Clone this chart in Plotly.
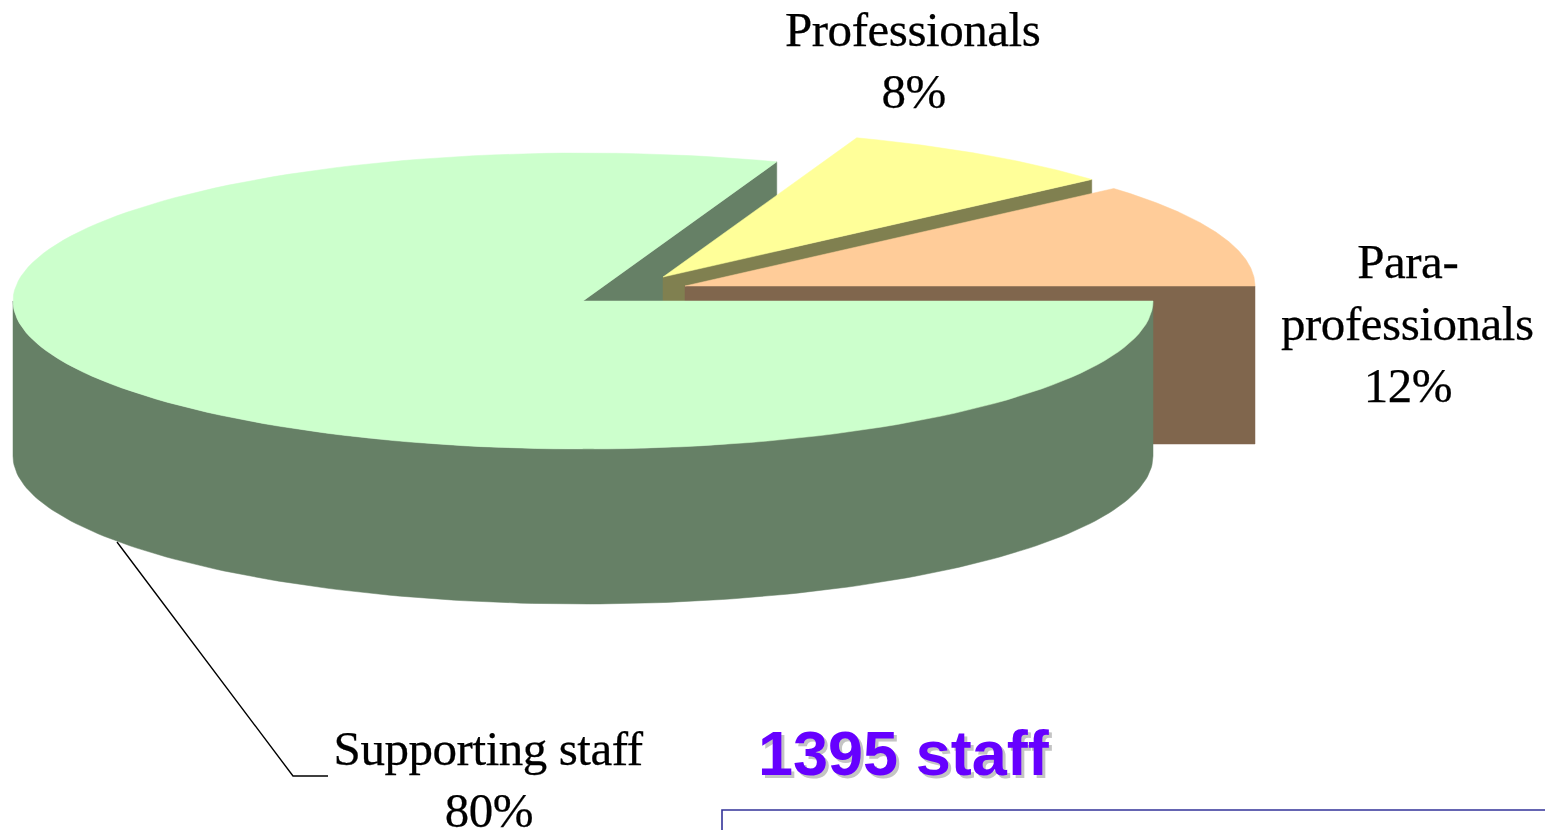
import numpy as np
import plotly.graph_objects as go

# --- data ---
categories = ["Supporting staff", "Professionals", "Para-professionals"]
shares = [80.52, 8.03, 11.45]
label_percent = ["80%", "8%", "12%"]
headline = "1395 staff"

# --- style / geometry ---
W, H = 1545, 830
RX, RY = 570, 148
depth = {"Supporting staff": 155, "Professionals": 156, "Para-professionals": 158}
top_colors = {"Supporting staff": "#CCFFCC", "Professionals": "#FFFF99", "Para-professionals": "#FFCC99"}
wall_colors = {"Supporting staff": "#668066", "Professionals": "#808050", "Para-professionals": "#80664D"}
apex = {"Supporting staff": (583, 301), "Professionals": (663, 277), "Para-professionals": (685, 286)}

# Slices run counter-clockwise from angle 0 in the order: para, prof, support
order = ["Para-professionals", "Professionals", "Supporting staff"]
share_of = dict(zip(categories, shares))
spans, start = {}, 0.0
for name in order:
    sweep = share_of[name] / sum(shares) * 2 * np.pi
    spans[name] = (start, start + sweep)
    start += sweep


def arc(name, a, b, n=160):
    cx, cy = apex[name]
    t = np.linspace(a, b, n)
    return cx + RX * np.cos(t), cy - RY * np.sin(t)


fig = go.Figure()


def poly(x, y, color, name):
    fig.add_trace(go.Scatter(x=list(x), y=list(y), mode="lines", fill="toself", fillcolor=color,
                             line=dict(color=color, width=0.5), hoverinfo="skip", name=name))


def cut_face(name, angle, color):
    cx, cy = apex[name]
    ex, ey = arc(name, angle, angle, 1)
    ex, ey = ex[0], ey[0]
    d = depth[name]
    poly([cx, ex, ex, cx, cx], [cy, ey, ey + d, cy + d, cy], color, name)


def top(name):
    a, b = spans[name]
    cx, cy = apex[name]
    x, y = arc(name, a, b)
    poly(np.r_[cx, x, cx], np.r_[cy, y, cy], top_colors[name], name)


# back cut face of the big slice, behind everything else
sup = "Supporting staff"
cut_face(sup, spans[sup][0], wall_colors[sup])

# professionals slice
pro = "Professionals"
cut_face(pro, spans[pro][0], wall_colors[pro])
top(pro)

# para-professionals slice
par = "Para-professionals"
cut_face(par, spans[par][0], wall_colors[par])
top(par)

# big slice: front wall (angles pi .. 2*pi) then the top
x, y = arc(sup, np.pi, 2 * np.pi)
poly(np.r_[x, x[::-1], x[0]], np.r_[y, y[::-1] + depth[sup], y[0]], wall_colors[sup], sup)
top(sup)

# --- labels ---
serif = dict(family="Liberation Serif", size=49, color="#000000")
anns = [
    dict(x=912, y=29, text="Professionals", font=serif),
    dict(x=913, y=91, text=label_percent[1], font=serif),
    dict(x=1407, y=261, text="Para-", font=serif),
    dict(x=1407, y=323, text="professionals", font=serif),
    dict(x=1408, y=385, text=label_percent[2], font=serif),
    dict(x=488, y=748, text="Supporting staff", font=serif),
    dict(x=489, y=810, text=label_percent[0], font=serif),
    dict(x=904, y=753, text=headline,
         font=dict(family="Liberation Sans", size=63, color="#6600FF", weight="bold",
                   shadow="3px 3px 0px #C4C4C4")),
]
for a in anns:
    a.update(xref="x", yref="y", showarrow=False, xanchor="center", yanchor="middle", align="center")

shapes = [
    dict(type="path", path="M 117 542 L 293 776 L 328 776", line=dict(color="#000000", width=1.4)),
    dict(type="path", path=f"M 722 {H} L 722 810 L {W} 810", line=dict(color="#333399", width=1.6)),
]

fig.update_layout(
    width=W, height=H, margin=dict(l=0, r=0, t=0, b=0),
    paper_bgcolor="#FFFFFF", plot_bgcolor="#FFFFFF", showlegend=False,
    xaxis=dict(range=[0, W], visible=False, fixedrange=True),
    yaxis=dict(range=[H, 0], visible=False, fixedrange=True),
    annotations=anns, shapes=shapes,
)

post = """
document.body.style.margin='0';document.body.style.overflow='hidden';
document.querySelectorAll('.annotation-text').forEach(function(t){
  if((t.style.fontFamily||'').indexOf('Serif')>=0){
    t.style.letterSpacing='-0.45px';
    t.style.stroke='#000';t.style.strokeWidth='0.25px';
  }
});
"""
fig.write_html("out.html", config=dict(displayModeBar=False), post_script=post)
